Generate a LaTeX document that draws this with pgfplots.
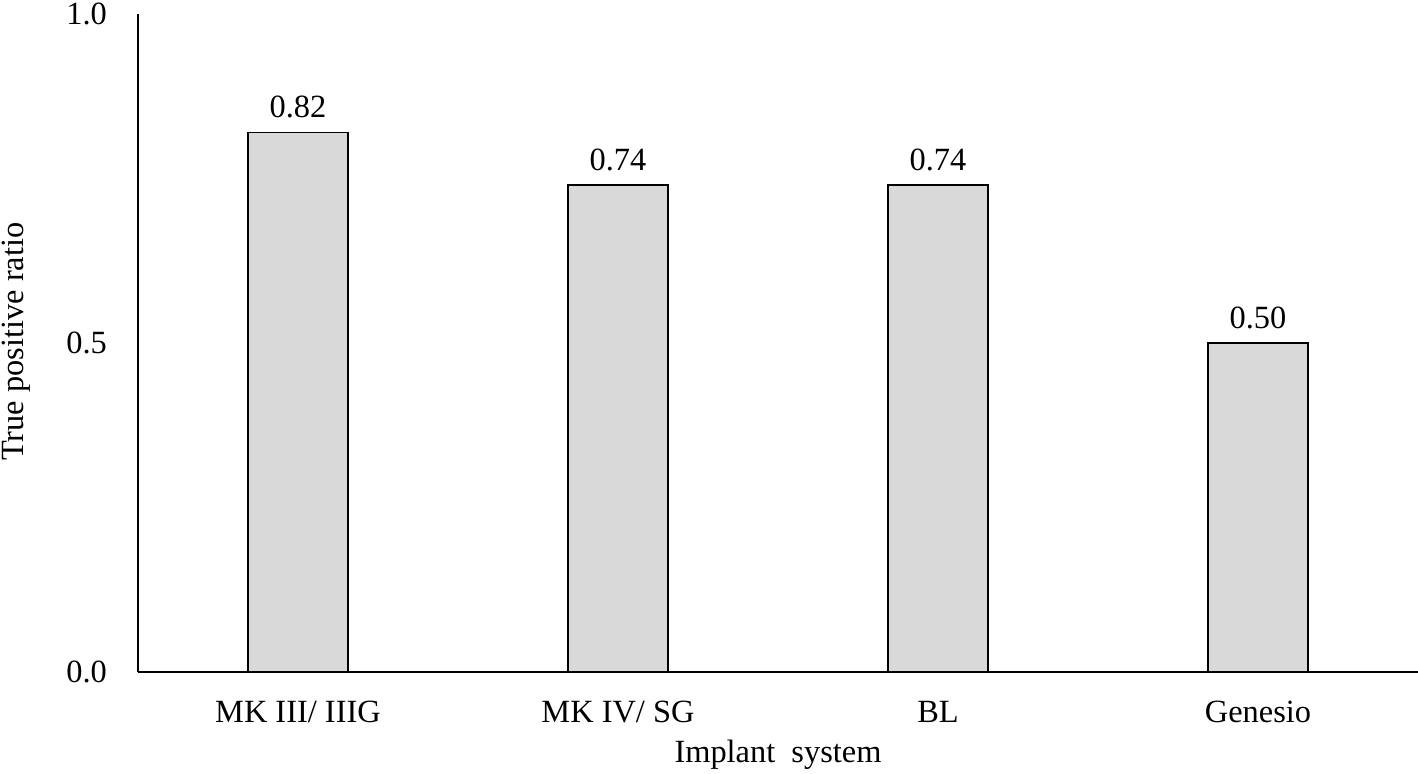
\documentclass[border=0pt]{standalone}
\usepackage{pgfplots}
\pgfplotsset{compat=1.18}
\usepackage{fontspec}
\setmainfont{Liberation Serif}
\definecolor{barfill}{HTML}{D9D9D9}
\begin{document}
\begin{tikzpicture}[x=1pt,y=1pt]
\begin{axis}[
  scale only axis,
  width=640pt, height=329pt,
  xmin=-0.5, xmax=3.5,
  ymin=0, ymax=1,
  axis x line*=bottom,
  axis y line*=left,
  axis line style={black, line width=0.7pt},
  xtick=data,
  xticklabels={MK III/ IIIG, MK IV/ SG, BL, Genesio},
  ytick={0,0.5,1},
  yticklabels={0.0, 0.5, 1.0},
  major tick length=0pt,
  font=\fontsize{16.2}{19}\selectfont,
  yticklabel style={xshift=-12pt},
  xticklabel style={yshift=-11pt},
  every axis y label/.style={at={(axis description cs:-0.0953,0.502)}, rotate=90, anchor=center},
  every axis x label/.style={at={(axis description cs:0.5,-0.126)}, anchor=center},
  ylabel={True positive ratio},
  xlabel={Implant\ \ system},
  ybar,
  bar width=50pt,
  nodes near coords={\pgfmathprintnumber[fixed, fixed zerofill, precision=2, assume math mode=true]{\pgfplotspointmeta}},
  every node near coord/.append style={font=\fontsize{16.2}{19}\selectfont, yshift=3.5pt},
  clip=false,
]
\addplot[fill=barfill, draw=black, line width=0.6pt] coordinates {(0,0.82) (1,0.74) (2,0.74) (3,0.50)};
\end{axis}
\pgfresetboundingbox
\useasboundingbox (current axis.south west) ++(-69pt,-50.5pt) rectangle ++(709pt,386.5pt);
\end{tikzpicture}
\end{document}
